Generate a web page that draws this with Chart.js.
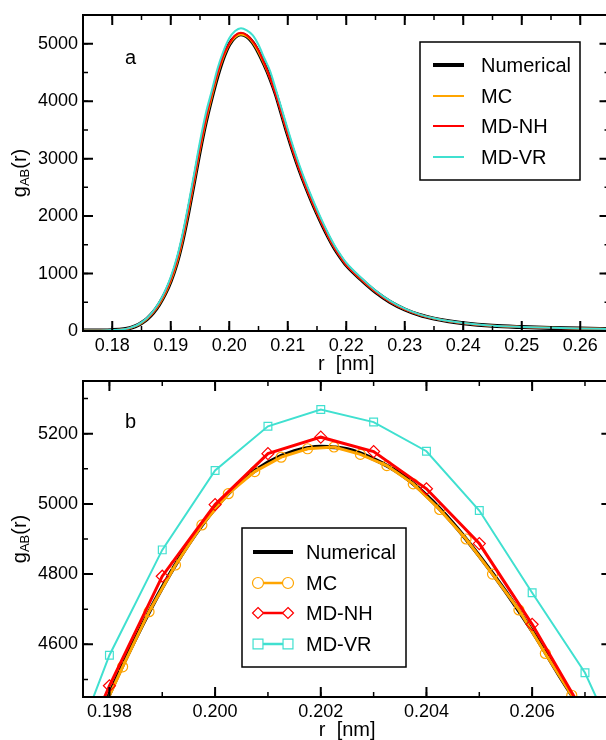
<!DOCTYPE html>
<html>
<head>
<meta charset="utf-8">
<title>g_AB(r)</title>
<script src="https://cdn.jsdelivr.net/npm/chart.js@4.4.0/dist/chart.umd.min.js"></script>
<style>
  html, body { margin: 0; padding: 0; background: #fff; overflow: hidden; }
  canvas { display: block; }
</style>
</head>
<body>
<canvas id="chartA" width="612" height="380"></canvas>
<canvas id="chartB" width="612" height="360"></canvas>
<script>
// ---- panel a : whole peak ----
const rTop = [0.175, 0.1775, 0.180, 0.182, 0.183, 0.184, 0.185, 0.186, 0.187, 0.188, 0.189, 0.190, 0.191, 0.192,
  0.193, 0.194, 0.195, 0.196, 0.197, 0.198, 0.199, 0.200, 0.201, 0.202, 0.203, 0.204, 0.205, 0.206, 0.207, 0.208,
  0.209, 0.210, 0.211, 0.212, 0.213, 0.214, 0.215, 0.216, 0.217, 0.218, 0.219, 0.220, 0.2225, 0.225, 0.2275,
  0.230, 0.2325, 0.235, 0.2375, 0.240, 0.245, 0.250, 0.255, 0.260, 0.265];
const numericalTop = [8, 10, 15, 30, 50, 85, 140, 215, 320, 460, 640, 870, 1170, 1570,
  2060, 2600, 3150, 3640, 4060, 4440, 4755, 4988, 5118, 5163, 5128, 5024, 4852, 4638, 4395, 4110,
  3765, 3420, 3100, 2805, 2535, 2285, 2050, 1830, 1625, 1440, 1285, 1148, 900, 680, 505,
  375, 280, 215, 168, 134, 90, 68, 53, 42, 34];
const mcTop = [7, 9, 14, 29, 49, 84, 138, 213, 318, 458, 638, 868, 1168, 1568,
  2060, 2602, 3155, 3645, 4065, 4454, 4760, 4985, 5113, 5160, 5125, 5021, 4850, 4636, 4395, 4112,
  3768, 3424, 3104, 2808, 2538, 2288, 2053, 1833, 1628, 1443, 1288, 1150, 902, 683, 508,
  378, 282, 217, 170, 136, 92, 70, 55, 44, 36];
const nhTop = [8, 10, 15, 31, 52, 88, 145, 222, 330, 475, 660, 895, 1200, 1605,
  2100, 2640, 3190, 3685, 4110, 4482, 4794, 4998, 5143, 5190, 5149, 5043, 4887, 4657, 4398, 4100,
  3770, 3425, 3105, 2810, 2540, 2290, 2055, 1835, 1630, 1445, 1290, 1152, 903, 683, 507,
  377, 282, 216, 169, 135, 91, 69, 54, 43, 35];
const vrTop = [8, 10, 16, 32, 54, 91, 150, 230, 345, 495, 690, 940, 1260, 1680,
  2190, 2740, 3300, 3790, 4175, 4569, 4869, 5095, 5221, 5269, 5233, 5150, 4981, 4747, 4519, 4190,
  3855, 3510, 3185, 2885, 2610, 2355, 2115, 1890, 1680, 1490, 1330, 1188, 930, 705, 523,
  388, 290, 222, 173, 138, 93, 70, 55, 44, 36];
const xTicksTop = [0.18, 0.19, 0.20, 0.21, 0.22, 0.23, 0.24, 0.25, 0.26];
const yTicksTop = [0, 1000, 2000, 3000, 4000, 5000];

// ---- panel b : zoom on the maximum ----
const rNumBottom = [0.1970, 0.1975, 0.1980, 0.1985, 0.1990, 0.1995, 0.2000, 0.2005, 0.2010, 0.2015, 0.2020, 0.2025,
  0.2030, 0.2035, 0.2040, 0.2045, 0.2050, 0.2055, 0.2060, 0.2065, 0.2070, 0.2075, 0.2080];
const numericalBottom = [4070, 4270, 4458, 4618, 4762, 4886, 4988, 5065, 5118, 5150, 5163, 5156, 5128, 5086, 5024,
  4945, 4852, 4750, 4638, 4515, 4395, 4262, 4110];
const rMC = [0.19775, 0.19825, 0.19875, 0.19925, 0.19975, 0.20025, 0.20075, 0.20125, 0.20175, 0.20225,
  0.20275, 0.20325, 0.20375, 0.20425, 0.20475, 0.20525, 0.20575, 0.20625, 0.20675, 0.20725];
const mcBottom = [4371, 4536, 4693, 4826, 4940, 5029, 5092, 5133, 5157, 5162, 5141, 5109, 5057, 4984, 4900, 4800,
  4698, 4574, 4455, 4335];
const rMD = [0.197, 0.198, 0.199, 0.200, 0.201, 0.202, 0.203, 0.204, 0.205, 0.206, 0.207, 0.208];
const nhBottom = [4130, 4482, 4794, 4998, 5143, 5190, 5149, 5043, 4887, 4657, 4398, 4100];
const vrBottom = [4175, 4569, 4869, 5095, 5221, 5269, 5233, 5150, 4981, 4747, 4519, 4190];
const xTicksBottom = [0.198, 0.200, 0.202, 0.204, 0.206];
const yTicksBottom = [4600, 4800, 5000, 5200];

const seriesNames = ['Numerical', 'MC', 'MD-NH', 'MD-VR'];
const seriesColors = ['#000000', '#ffa500', '#ff0000', '#40e0d0'];

const FONT = "'Liberation Sans', Arial, Helvetica, sans-serif";

const pts = (xs, ys) => xs.map((x, i) => ({ x: x, y: ys[i] }));

// minor ticks halfway between the major ones
function withMinors(majors, min, max) {
  const step = majors[1] - majors[0];
  const all = [];
  const first = majors[0] - step * Math.ceil((majors[0] - min) / step);
  for (let v = first - step / 2; v <= max + 1e-9; v += step / 2) {
    if (v >= min - 1e-9) all.push(+v.toFixed(6));
  }
  return all;
}

function drawMarker(ctx, style, x, y, r) {
  ctx.beginPath();
  if (style === 'circle') {
    ctx.arc(x, y, r, 0, Math.PI * 2);
  } else if (style === 'rectRot') {
    ctx.moveTo(x, y - r); ctx.lineTo(x + r, y); ctx.lineTo(x, y + r); ctx.lineTo(x - r, y); ctx.closePath();
  } else {
    ctx.rect(x - r * 0.9, y - r * 0.9, r * 1.8, r * 1.8);
  }
  ctx.fillStyle = '#fff';
  ctx.fill();
  ctx.stroke();
}

// frame, inward ticks, y title, panel letter and the boxed legend
const panelDecor = {
  id: 'panelDecor',
  afterDraw(chart, args, o) {
    const ctx = chart.ctx;
    const a = chart.chartArea;
    const xs = chart.scales.x, ys = chart.scales.y;
    ctx.save();
    ctx.strokeStyle = '#000';

    ctx.lineWidth = 2;
    ctx.strokeRect(a.left, a.top, a.right - a.left, a.bottom - a.top);

    const xMinor = withMinors(o.xMajor, xs.min, xs.max);
    const yMinor = withMinors(o.yMajor, ys.min, ys.max);
    const tickX = (vals, len) => {
      vals.forEach(v => {
        const p = xs.getPixelForValue(v);
        ctx.beginPath();
        ctx.moveTo(p, a.bottom); ctx.lineTo(p, a.bottom - len);
        ctx.moveTo(p, a.top); ctx.lineTo(p, a.top + len);
        ctx.stroke();
      });
    };
    const tickY = (vals, len) => {
      vals.forEach(v => {
        const p = ys.getPixelForValue(v);
        ctx.beginPath();
        ctx.moveTo(a.left, p); ctx.lineTo(a.left + len, p);
        ctx.moveTo(a.right, p); ctx.lineTo(a.right - len, p);
        ctx.stroke();
      });
    };
    ctx.lineWidth = 1.5;
    tickX(xMinor, 5);
    tickY(yMinor, 5);
    ctx.lineWidth = 2;
    tickX(o.xMajor, 10);
    tickY(o.yMajor, 10);

    // y axis title g_AB(r)
    ctx.fillStyle = '#000';
    ctx.textBaseline = 'alphabetic';
    ctx.textAlign = 'left';
    const big = '20px ' + FONT, small = '13px ' + FONT;
    ctx.font = big; const w1 = ctx.measureText('g').width; const w3 = ctx.measureText('(r)').width;
    ctx.font = small; const w2 = ctx.measureText('AB').width;
    ctx.translate(26, (a.top + a.bottom) / 2);
    ctx.rotate(-Math.PI / 2);
    let x0 = -(w1 + w2 + w3) / 2;
    ctx.font = big; ctx.fillText('g', x0, 0);
    ctx.font = small; ctx.fillText('AB', x0 + w1, 3);
    ctx.font = big; ctx.fillText('(r)', x0 + w1 + w2, 0);
    ctx.setTransform(1, 0, 0, 1, 0, 0);

    // panel letter
    ctx.font = '20px ' + FONT;
    ctx.textBaseline = 'middle';
    ctx.fillText(o.letter, o.letterX, o.letterY);

    // legend
    const L = o.legend;
    ctx.fillStyle = '#fff';
    ctx.fillRect(L.x, L.y, L.w, L.h);
    ctx.lineWidth = 1.5;
    ctx.strokeStyle = '#000';
    ctx.strokeRect(L.x, L.y, L.w, L.h);
    seriesNames.forEach((name, i) => {
      const yy = L.rows[i];
      ctx.strokeStyle = seriesColors[i];
      ctx.lineWidth = i === 0 ? 4 : (o.markers ? 2.5 : 2);
      ctx.beginPath();
      ctx.moveTo(L.lineX0, yy); ctx.lineTo(L.lineX1, yy);
      ctx.stroke();
      if (o.markers && o.markers[i]) {
        ctx.lineWidth = 1.2;
        drawMarker(ctx, o.markers[i], L.lineX0 + 5, yy, 5.5);
        drawMarker(ctx, o.markers[i], L.lineX1 - 5, yy, 5.5);
      }
      ctx.fillStyle = '#000';
      ctx.font = '20px ' + FONT;
      ctx.textBaseline = 'middle';
      ctx.fillText(name, L.textX, yy + 1);
    });
    ctx.restore();
  }
};

function axisX(min, max, ticks, digits, height, titlePad) {
  return {
    type: 'linear', min: min, max: max,
    grid: { display: false, drawTicks: false }, border: { display: false },
    afterBuildTicks: s => { s.ticks = ticks.map(v => ({ value: v })); },
    afterFit: s => { s.height = height; s.paddingLeft = 0; s.paddingRight = 0; },
    ticks: { color: '#000', padding: 4, autoSkip: false, maxRotation: 0,
      font: { family: FONT, size: 18 }, callback: v => v.toFixed(digits) },
    title: { display: true, text: 'r  [nm]', color: '#000',
      font: { family: FONT, size: 20, lineHeight: 1 }, padding: { top: 0, bottom: titlePad } }
  };
}

function axisY(min, max, ticks) {
  return {
    min: min, max: max,
    grid: { display: false, drawTicks: false }, border: { display: false },
    afterBuildTicks: s => { s.ticks = ticks.map(v => ({ value: v })); },
    afterFit: s => { s.width = 83; s.paddingTop = 0; s.paddingBottom = 0; },
    ticks: { color: '#000', padding: 5, font: { family: FONT, size: 18 }, callback: v => String(v) }
  };
}

// panel a
new Chart(document.getElementById('chartA'), {
  type: 'line',
  data: {
    datasets: [
      { label: 'Numerical', data: pts(rTop, numericalTop), borderColor: seriesColors[0], borderWidth: 4, order: 4 },
      { label: 'MC', data: pts(rTop, mcTop), borderColor: seriesColors[1], borderWidth: 2, order: 3 },
      { label: 'MD-NH', data: pts(rTop, nhTop), borderColor: seriesColors[2], borderWidth: 2, order: 2 },
      { label: 'MD-VR', data: pts(rTop, vrTop), borderColor: seriesColors[3], borderWidth: 2, order: 1 }
    ]
  },
  options: {
    responsive: false,
    animation: false,
    layout: { autoPadding: false, padding: { top: 15, right: 2.5, left: 0, bottom: 0 } },
    elements: { point: { radius: 0 }, line: { cubicInterpolationMode: 'monotone', fill: false } },
    datasets: { line: { clip: 0 } },
    plugins: {
      legend: { display: false }, tooltip: { enabled: false },
      panelDecor: {
        xMajor: xTicksTop, yMajor: yTicksTop, letter: 'a', letterX: 125, letterY: 58,
        legend: { x: 420, y: 42, w: 160, h: 138, rows: [65, 96, 126, 157], lineX0: 433, lineX1: 464, textX: 481 }
      }
    },
    scales: { x: axisX(0.175, 0.265, xTicksTop, 2, 49, 6), y: axisY(0, 5500, yTicksTop) }
  },
  plugins: [panelDecor]
});

// panel b
new Chart(document.getElementById('chartB'), {
  type: 'line',
  data: {
    datasets: [
      { label: 'Numerical', data: pts(rNumBottom, numericalBottom), borderColor: seriesColors[0], borderWidth: 4,
        pointRadius: 0, cubicInterpolationMode: 'monotone', order: 4 },
      { label: 'MC', data: pts(rMC, mcBottom), borderColor: seriesColors[1], borderWidth: 3, pointStyle: 'circle',
        pointRadius: 5, pointBorderWidth: 1.2, pointBackgroundColor: 'rgba(0,0,0,0)', order: 3 },
      { label: 'MD-NH', data: pts(rMD, nhBottom), borderColor: seriesColors[2], borderWidth: 3, pointStyle: 'rectRot',
        pointRadius: 6, pointBorderWidth: 1.2, pointBackgroundColor: 'rgba(0,0,0,0)', order: 2 },
      { label: 'MD-VR', data: pts(rMD, vrBottom), borderColor: seriesColors[3], borderWidth: 2, pointStyle: 'rect',
        pointRadius: 5.5, pointBorderWidth: 1.2, pointBackgroundColor: 'rgba(0,0,0,0)', order: 1 }
    ]
  },
  options: {
    responsive: false,
    animation: false,
    layout: { autoPadding: false, padding: { top: 1, right: 0.6, left: 0, bottom: 0 } },
    elements: { line: { tension: 0, fill: false } },
    datasets: { line: { clip: 0 } },
    plugins: {
      legend: { display: false }, tooltip: { enabled: false },
      panelDecor: {
        xMajor: xTicksBottom, yMajor: yTicksBottom, letter: 'b', letterX: 125, letterY: 42,
        markers: [null, 'circle', 'rectRot', 'rect'],
        legend: { x: 242, y: 148, w: 164, h: 139, rows: [172, 203, 233, 264], lineX0: 253, lineX1: 293, textX: 306 }
      }
    },
    scales: { x: axisX(0.1975, 0.2075, xTicksBottom, 3, 43, 0), y: axisY(4450, 5350, yTicksBottom) }
  },
  plugins: [panelDecor]
});
</script>
</body>
</html>
